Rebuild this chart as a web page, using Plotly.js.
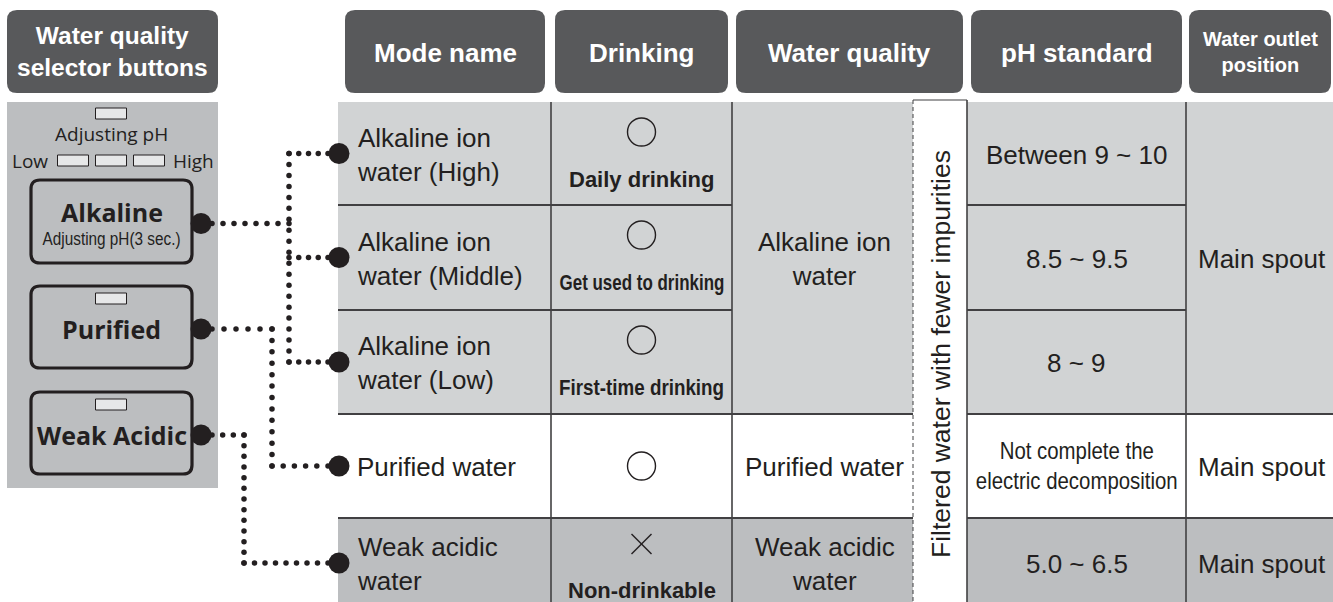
<!DOCTYPE html>
<html><head><meta charset="utf-8">
<script src="https://cdn.plot.ly/plotly-3.0.1.min.js"></script>
<style>html,body{margin:0;padding:0;background:#fff;overflow:hidden}#chart{width:1333px;height:602px}</style>
</head><body><div id="chart"></div>
<script>
// ---------------- data ----------------
const selectorTitle = "Water quality<br>selector buttons";
const headers = ["Mode name", "Drinking", "Water quality", "pH standard", "Water outlet<br>position"];
const modeNames = ["Alkaline ion<br>water (High)", "Alkaline ion<br>water (Middle)", "Alkaline ion<br>water (Low)", "Purified water", "Weak acidic<br>water"];
const drinkMarks = ["o", "o", "o", "o", "x"];
const drinkNotes = ["Daily drinking", "Get used to drinking", "First-time drinking", "", "Non-drinkable"];
const qualityLabels = ["Alkaline ion<br>water", "Purified water", "Weak acidic<br>water"];
const qualityRows = [[0, 2], [3, 3], [4, 4]];
const phStandards = ["Between 9 ~ 10", "8.5 ~ 9.5", "8 ~ 9", "Not complete the<br>electric decomposition", "5.0 ~ 6.5"];
const outletLabels = ["Main spout", "Main spout", "Main spout"];
const outletRows = [[0, 2], [3, 3], [4, 4]];
const sideNote = "Filtered water with fewer impurities";
const buttonNames = ["Alkaline", "Purified", "Weak Acidic"];
const buttonSubs = ["Adjusting pH(3 sec.)", "", ""];
const buttonTargets = [[0, 1, 2], [3], [4]];
const phLevelTitle = "Adjusting pH";
const phLevelEnds = ["Low", "High"];

// ---------------- geometry & style ----------------
const G = {
  W: 1333, H: 602,
  colX: [338, 551, 732, 913, 967, 1186, 1333],
  rowY: [102, 205, 310, 414, 518, 608],
  headY: [10, 93],
  headX: [[345, 545], [555, 728], [736, 963], [971, 1182], [1189, 1331]],
  selHead: [7, 218],
  panel: [7, 102, 218, 488],
  btnX: [31, 192],
  btnY: [[180, 263], [286, 368], [392, 474]],
  btnLamp: [false, true, true],
  trunkX: [289, 272, 244],
  modeTextX: 355,
  endDotX: 339, btnDotX: 201
};
const C = {
  head: '#58595b', light: '#d1d3d4', mid: '#bcbec0', white: '#ffffff',
  line: '#414042', ink: '#231f20', lamp: '#e6e7e8'
};
const rowFill = [C.light, C.light, C.light, C.white, C.mid];
const SANS = 'Liberation Sans, Arial, sans-serif';
const FRUT = 'Open Sans, Noto Sans, sans-serif';

const shapes = [];
const ann = [];
const fits = [];   // [annotation index, max width] : condensed text squeezed into its cell
function rrect(x0, y0, x1, y1, r) {
  return `M${x0 + r},${y0} L${x1 - r},${y0} Q${x1},${y0} ${x1},${y0 + r} L${x1},${y1 - r} Q${x1},${y1} ${x1 - r},${y1} L${x0 + r},${y1} Q${x0},${y1} ${x0},${y1 - r} L${x0},${y0 + r} Q${x0},${y0} ${x0 + r},${y0} Z`;
}
function rect(x0, y0, x1, y1, fill, lc, lw) {
  shapes.push({type: 'rect', xref: 'x', yref: 'y', x0, y0, x1, y1, fillcolor: fill, line: {color: lc || fill, width: lw || 0}, layer: 'below'});
}
function line(x0, y0, x1, y1, color, width, dash) {
  shapes.push({type: 'line', xref: 'x', yref: 'y', x0, y0, x1, y1, line: {color, width, dash: dash || 'solid'}, layer: 'below'});
}
function text(t, x, y, size, opts) {
  opts = opts || {};
  if (opts.fit) fits.push([ann.length, opts.fit]);
  ann.push({
    text: t, x, y, xref: 'x', yref: 'y', showarrow: false,
    xanchor: opts.xanchor || 'center', yanchor: 'middle', align: opts.align || 'center',
    textangle: opts.angle || 0,
    font: {family: opts.family || SANS, size, color: opts.color || C.ink, weight: opts.bold ? 'bold' : 'normal'}
  });
}
const rowMid = i => (G.rowY[i] + G.rowY[i + 1]) / 2;
const spanMid = s => (G.rowY[s[0]] + G.rowY[s[1] + 1]) / 2;
const T = G.rowY[0], B = G.rowY[G.rowY.length - 1];
const xs = G.colX;

// ---------------- headers ----------------
shapes.push({type: 'path', path: rrect(G.selHead[0], G.headY[0], G.selHead[1], G.headY[1], 10), fillcolor: C.head, line: {width: 0}, layer: 'below'});
text(selectorTitle, (G.selHead[0] + G.selHead[1]) / 2, (G.headY[0] + G.headY[1]) / 2, 24.5, {bold: true, color: '#fff'});
headers.forEach((h, i) => {
  const [x0, x1] = G.headX[i];
  if (h.indexOf('<br>') >= 0) text(h, (x0 + x1) / 2, (G.headY[0] + G.headY[1]) / 2, 20, {bold: true, color: '#fff', fit: x1 - x0 - 16});
  else text(h, (x0 + x1) / 2, (G.headY[0] + G.headY[1]) / 2 + 1, 26, {bold: true, color: '#fff'});
  shapes.push({type: 'path', path: rrect(x0, G.headY[0], x1, G.headY[1], 10), fillcolor: C.head, line: {width: 0}, layer: 'below'});
});

// ---------------- left panel ----------------
rect(G.panel[0], G.panel[1], G.panel[2], G.panel[3], C.mid);
const pc = (G.btnX[0] + G.btnX[1]) / 2;
rect(pc - 16, 108, pc + 15, 119, C.lamp, C.ink, 1);
text(phLevelTitle, pc, 134, 19, {family: FRUT});
[-1, 0, 1].forEach(k => rect(pc + k * 38 - 16, 155, pc + k * 38 + 15, 166, C.lamp, C.ink, 1));
text(phLevelEnds[0], 10, 161, 19, {family: FRUT, xanchor: 'left'});
text(phLevelEnds[1], 216, 161, 19, {family: FRUT, xanchor: 'right'});
buttonNames.forEach((b, i) => {
  const [y0, y1] = G.btnY[i];
  shapes.push({type: 'path', path: rrect(G.btnX[0], y0, G.btnX[1], y1, 9), fillcolor: C.mid, line: {color: C.ink, width: 3.2}, layer: 'below'});
  if (G.btnLamp[i]) rect(pc - 16, y0 + 7, pc + 15, y0 + 18, C.lamp, C.ink, 1);
  if (buttonSubs[i]) {
    text(b, pc, y0 + 32, 25, {bold: true, family: FRUT});
    text(buttonSubs[i], pc, y0 + 58, 19, {fit: 138});
  } else {
    text(b, pc, (y0 + y1) / 2 + 2, 25, {bold: true, family: FRUT});
  }
});

// ---------------- table cells ----------------
for (let r = 0; r < 5; r++) {
  rect(xs[0], G.rowY[r], xs[3], G.rowY[r + 1], rowFill[r]);
  rect(xs[4], G.rowY[r], xs[6], G.rowY[r + 1], rowFill[r]);
}
rect(xs[3], T - 2, xs[4], B, C.white);
[1, 2, 5].forEach(c => line(xs[c], T, xs[c], B, C.line, 1.6));
line(xs[4], T - 2, xs[4], B, C.line, 1.6);
line(xs[3], T - 2, xs[3], B, C.line, 1, '4px,3px');
line(xs[3], T - 2, xs[4], T - 2, C.line, 1.2);
function inSpan(spans, r) { return spans.some(s => r >= s[0] && r < s[1]); }
for (let r = 0; r < 4; r++) {
  const y = G.rowY[r + 1];
  line(xs[0], y, xs[1], y, C.line, 2);
  line(xs[1], y, xs[2], y, C.line, 2);
  if (!inSpan(qualityRows, r)) line(xs[2], y, xs[3], y, C.line, 2);
  line(xs[4], y, xs[5], y, C.line, 2);
  if (!inSpan(outletRows, r)) line(xs[5], y, xs[6], y, C.line, 2);
}

// ---------------- table text ----------------
modeNames.forEach((m, r) => text(m, G.modeTextX, rowMid(r) + 1, 26, {xanchor: 'left', align: 'left'}));
const dcx = (xs[1] + xs[2]) / 2;
drinkMarks.forEach((mk, r) => {
  const cy = drinkNotes[r] ? G.rowY[r] + 30 : rowMid(r);
  if (mk === 'o') {
    shapes.push({type: 'circle', xref: 'x', yref: 'y', x0: dcx - 14, x1: dcx + 14, y0: cy - 14, y1: cy + 14, line: {color: C.ink, width: 1.4}, fillcolor: 'rgba(0,0,0,0)', layer: 'above'});
  } else {
    const cyx = G.rowY[r] + 26;
    shapes.push({type: 'line', x0: dcx - 10, x1: dcx + 10, y0: cyx - 10, y1: cyx + 10, line: {color: C.ink, width: 1.4}});
    shapes.push({type: 'line', x0: dcx - 10, x1: dcx + 10, y0: cyx + 10, y1: cyx - 10, line: {color: C.ink, width: 1.4}});
  }
  if (drinkNotes[r]) text(drinkNotes[r], dcx, G.rowY[r] + (mk === 'x' ? 72 : 77), 22, {bold: true, fit: xs[2] - xs[1] - 16});
});
const qcx = (xs[2] + xs[3]) / 2;
qualityLabels.forEach((q, i) => text(q, qcx + 2, spanMid(qualityRows[i]) + 1, 26));
const pcx = (xs[4] + xs[5]) / 2;
phStandards.forEach((p, r) => {
  if (p.indexOf('<br>') >= 0) text(p, pcx, rowMid(r), 23, {fit: xs[5] - xs[4] - 17});
  else text(p, pcx, rowMid(r) + 1, 26);
});
const ocx = (xs[5] + xs[6]) / 2 + 2;
outletLabels.forEach((o, i) => text(o, ocx, spanMid(outletRows[i]) + 1, 26));
text(sideNote, (xs[3] + xs[4]) / 2 + 1, 354, 26.5, {angle: -90});

// ---------------- connectors ----------------
const dotX = [], dotY = [];
function dots(pts, step) {
  for (let k = 0; k < pts.length - 1; k++) {
    const [ax, ay] = pts[k], [bx, by] = pts[k + 1];
    const len = Math.hypot(bx - ax, by - ay);
    const n = Math.max(1, Math.round(len / step));
    for (let j = 0; j <= n; j++) { dotX.push(ax + (bx - ax) * j / n); dotY.push(ay + (by - ay) * j / n); }
  }
}
const endX = G.endDotX - 11;
const bdX = [], bdY = [], edX = [], edY = [];
buttonTargets.forEach((tg, i) => {
  const by = (G.btnY[i][0] + G.btnY[i][1]) / 2 + 2;
  const tx = G.trunkX[i];
  bdX.push(G.btnDotX); bdY.push(by);
  const ys = tg.map(rowMid);
  const top = Math.min(by, ...ys), bot = Math.max(by, ...ys);
  dots([[G.btnDotX + 11, by], [tx, by]], 11);
  dots([[tx, top], [tx, bot]], 11);
  ys.forEach(y => { dots([[tx, y], [endX, y]], 11); edX.push(G.endDotX); edY.push(y); });
});

const traces = [
  {type: 'scatter', mode: 'markers', x: dotX, y: dotY, marker: {size: 5.5, color: C.ink}, hoverinfo: 'skip', showlegend: false},
  {type: 'scatter', mode: 'markers', x: bdX.concat(edX), y: bdY.concat(edY), marker: {size: 21, color: C.ink}, hoverinfo: 'skip', showlegend: false}
];

const layout = {
  width: G.W, height: G.H, margin: {l: 0, r: 0, t: 0, b: 0, pad: 0},
  paper_bgcolor: '#fff', plot_bgcolor: '#fff', showlegend: false,
  xaxis: {range: [0, G.W], visible: false, fixedrange: true},
  yaxis: {range: [G.H, 0], visible: false, fixedrange: true},
  shapes, annotations: ann
};
function squeeze() {
  fits.forEach(([idx, maxW]) => {
    const el = document.querySelector(`#chart .annotation[data-index="${idx}"] text.annotation-text`);
    if (!el) return;
    el.removeAttribute('transform');
    const bb = el.getBBox();
    if (bb.width > maxW) {
      const s = maxW / bb.width, cx = bb.x + bb.width / 2;
      el.setAttribute('transform', `translate(${cx},0) scale(${s},1) translate(${-cx},0)`);
    }
  });
}
Plotly.newPlot('chart', traces, layout, {staticPlot: true, displayModeBar: false}).then(squeeze);
</script></body></html>
